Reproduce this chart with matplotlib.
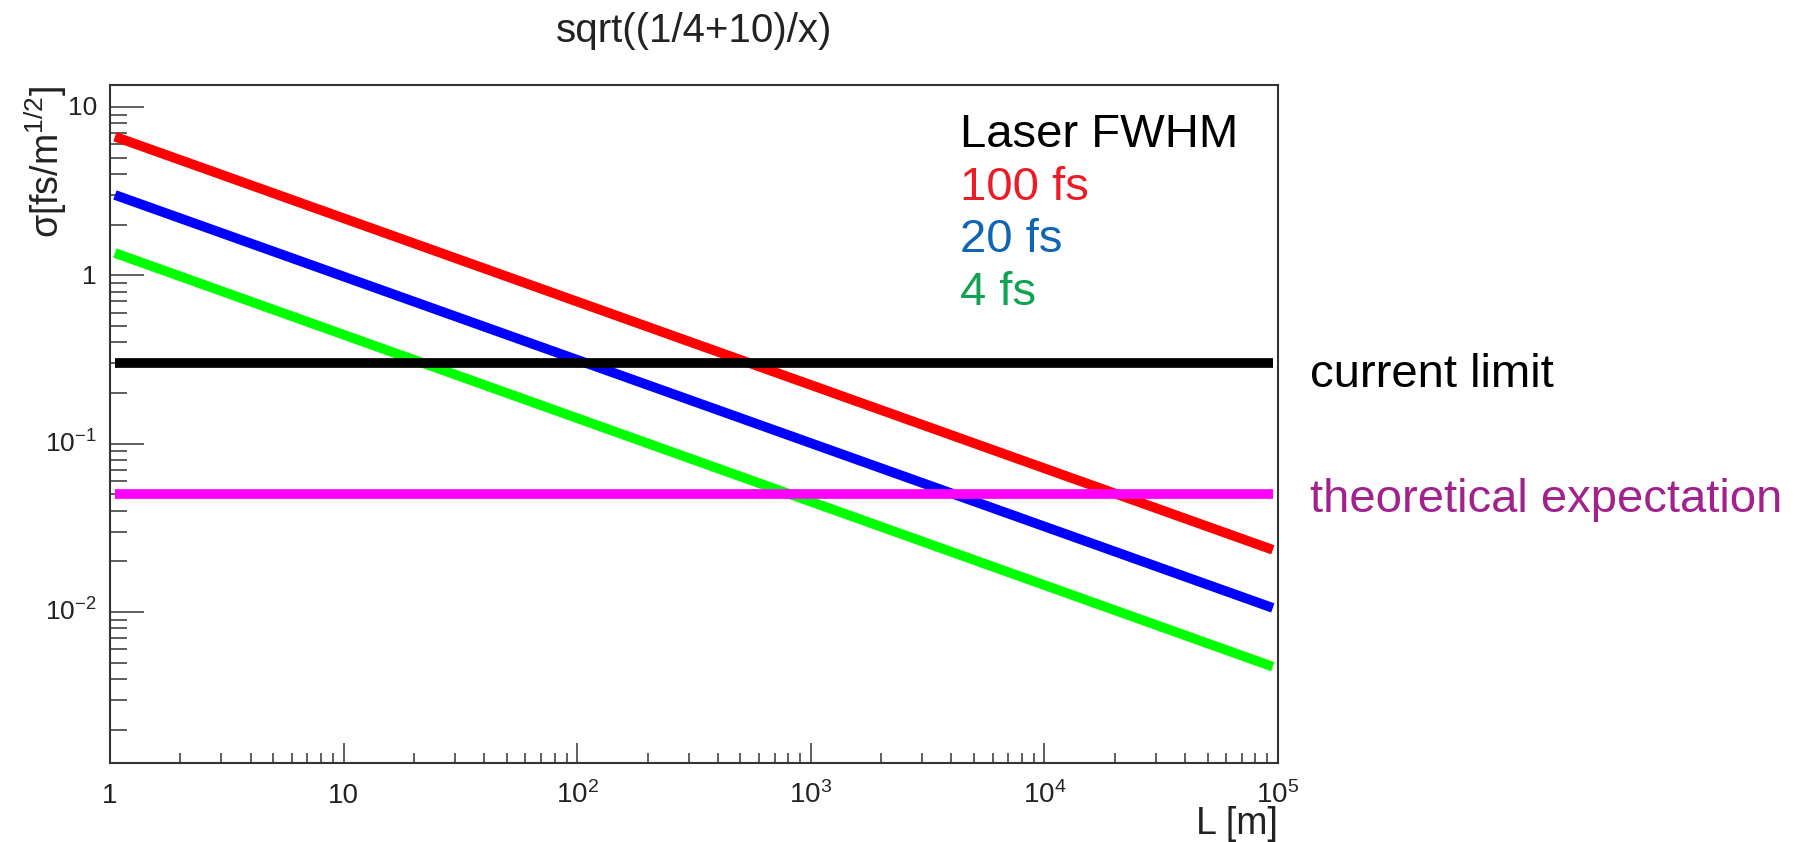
import matplotlib
matplotlib.use('Agg')
import matplotlib.pyplot as plt
import matplotlib.ticker as mtick
import matplotlib.transforms as mtrans

# values (line end points, log-log straight lines)
L = [1.05, 9.5e4]
sigma_100fs = [6.66, 0.0234]
sigma_20fs = [3.0, 0.01057]
sigma_4fs = [1.356, 0.00473]
current_limit = [0.3, 0.3]
theory = [0.05, 0.05]

xticks = [1, 10, 1e2, 1e3, 1e4, 1e5]
xticklabels = ['1', '10', '$10^{2}$', '$10^{3}$', '$10^{4}$', '$10^{5}$']
yticks = [1e-2, 1e-1, 1, 10]
yticklabels = ['$10^{-2}$', '$10^{-1}$', '1', '10']

legend_text = ['Laser FWHM', '100 fs', '20 fs', '4 fs']
legend_colors = ['black', '#ec1c26', '#1065b4', '#10a352']

plt.rcParams['font.family'] = ['Liberation Sans', 'DejaVu Sans']
plt.rcParams['mathtext.fontset'] = 'custom'
plt.rcParams['mathtext.rm'] = 'Liberation Sans'
plt.rcParams['mathtext.it'] = 'Liberation Sans:italic'
plt.rcParams['mathtext.default'] = 'regular'

W, H = 1798, 842
fig = plt.figure(figsize=(W / 100, H / 100), dpi=100, facecolor='white')
ax = fig.add_axes([110 / W, 1 - 763 / H, 1168 / W, 678 / H])

lw = 7
ax.plot(L, sigma_100fs, color='#ff0000', lw=lw, solid_capstyle='butt')
ax.plot(L, sigma_20fs, color='#0000ff', lw=lw, solid_capstyle='butt')
ax.plot(L, sigma_4fs, color='#00ff00', lw=lw, solid_capstyle='butt')
ax.plot(L, current_limit, color='black', lw=lw, solid_capstyle='butt')
ax.plot(L, theory, color='#ff00ff', lw=lw, solid_capstyle='butt')

ax.set_xscale('log')
ax.set_yscale('log')
ax.set_xlim(1, 1e5)
ax.set_ylim(0.001267, 13.5)

for s in ax.spines.values():
    s.set_linewidth(1.5)
    s.set_color('#333333')

ax.set_xticks(xticks)
ax.set_yticks(yticks)
ax.xaxis.set_minor_locator(mtick.LogLocator(base=10, subs=range(2, 10), numticks=20))
ax.yaxis.set_minor_locator(mtick.LogLocator(base=10, subs=range(2, 10), numticks=20))
ax.tick_params(axis='both', which='both', direction='in', top=False, right=False,
               labelbottom=False, labelleft=False, width=1.1, color='#333333')
ax.tick_params(axis='x', which='major', length=14.4)
ax.tick_params(axis='x', which='minor', length=7)
ax.tick_params(axis='y', which='major', length=24.5)
ax.tick_params(axis='y', which='minor', length=12)

# tick labels, ROOT style (digits aligned on baseline)
xtrans = mtrans.blended_transform_factory(ax.transData, ax.transAxes)
xtrans = mtrans.offset_copy(xtrans, fig=fig, y=-40, units='dots')
for x, lab in zip(xticks, xticklabels):
    ax.text(x, 0, lab, transform=xtrans, ha='center', va='baseline', fontsize=20, color='#222222')
ytrans = mtrans.blended_transform_factory(ax.transAxes, ax.transData)
ytrans = mtrans.offset_copy(ytrans, fig=fig, x=-13, y=-8.5, units='dots')
for y, lab in zip(yticks, yticklabels):
    ax.text(0, y, lab, transform=ytrans, ha='right', va='baseline', fontsize=19, color='#222222')

fig.text(694 / W, 1 - 42 / H, 'sqrt((1/4+10)/x)', ha='center', va='baseline', fontsize=29, color='#222222')
fig.text(46 / W, 1 - 86 / H, 'σ[fs/m$^{1/2}$]', rotation=90, ha='center', va='top', fontsize=27, color='#222222')
fig.text(1278 / W, 1 - 834 / H, 'L [m]', ha='right', va='baseline', fontsize=27, color='#222222')

# legend block
for i, (t, c) in enumerate(zip(legend_text, legend_colors)):
    fig.text(960 / W, 1 - (147 + 52.7 * i) / H, t, color=c, fontsize=34, va='baseline')

# labels right of the frame
rtrans = mtrans.blended_transform_factory(ax.transAxes, ax.transData)
ax.text(1.0274, current_limit[0], 'current limit', fontsize=34, color='black', va='baseline',
        transform=mtrans.offset_copy(rtrans, fig=fig, y=-23.5, units='dots'), clip_on=False)
ax.text(1.0274, theory[0], 'theoretical expectation', fontsize=34, color='#a1228d', va='baseline',
        transform=mtrans.offset_copy(rtrans, fig=fig, y=-17.5, units='dots'), clip_on=False)

fig.savefig('out.png', dpi=100)
